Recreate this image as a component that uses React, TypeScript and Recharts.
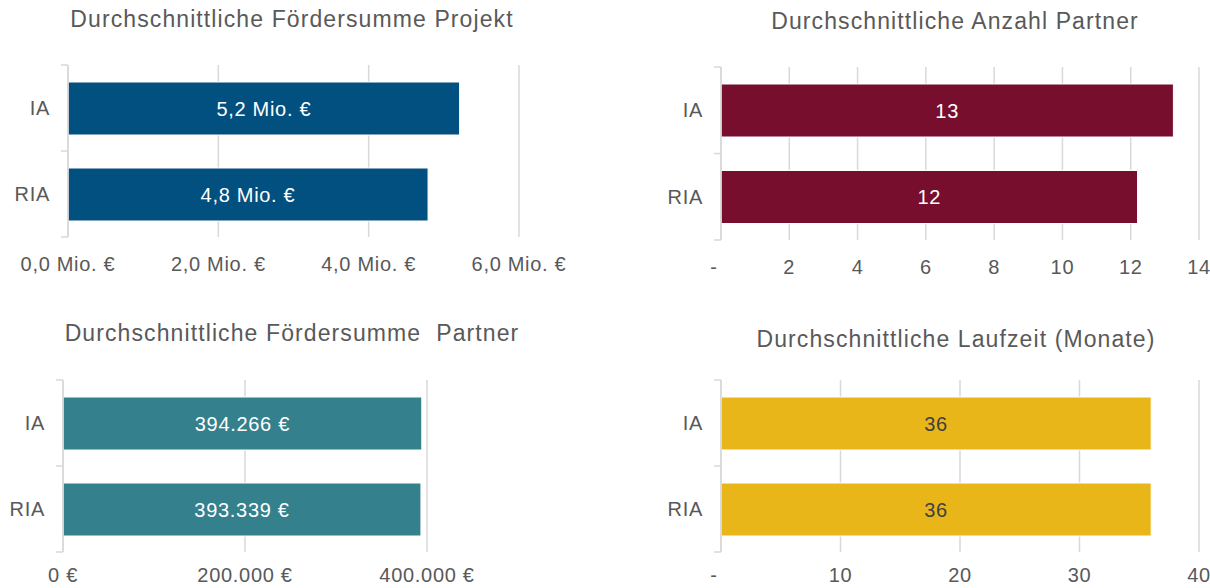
import { BarChart, Bar, XAxis, YAxis, CartesianGrid, LabelList } from 'recharts';

const categories = ['IA', 'RIA'];

// values
const projectFunding = [5.21, 4.79]; // Mio. €
const partnerCount = [13.25, 12.2];
const partnerFunding = [394266, 393339]; // €
const duration = [36, 36]; // Monate

const projectTicks = [0, 2, 4, 6];
const partnerCountTicks = [0, 2, 4, 6, 8, 10, 12, 14];
const partnerFundingTicks = [0, 200000, 400000];
const durationTicks = [0, 10, 20, 30, 40];

const FONT = '"Liberation Sans", Arial, sans-serif';
const TEXT = '#595959';
const GRID = '#d9d9d9';
const SPACING = 0.7;

const toRows = (values: number[]) => categories.map((name, i) => ({ name, value: values[i] }));

const thousands = (v: number) => String(Math.round(v)).replace(/\B(?=(\d{3})+(?!\d))/g, '.');
const mio = (v: number) => `${Number(v).toFixed(1).replace('.', ',')} Mio. €`;
const euro = (v: number) => `${thousands(v)} €`;
const dash = (v: number) => (v === 0 ? '-' : String(Math.round(v)));
const whole = (v: number) => String(Math.round(v));

function XTick(props: any) {
  const { x, y, payload, format } = props;
  const label = format(payload.value);
  const shift = label === '-' ? -7 : 0;
  return (
    <text
      x={x + shift}
      y={y}
      dy="0.71em"
      textAnchor="middle"
      fill={TEXT}
      fontSize={20}
      fontFamily={FONT}
      letterSpacing={SPACING}
    >
      {label}
    </text>
  );
}

function YTick(props: any) {
  const { x, y, payload, index, band } = props;
  const ax = x + 18;
  return (
    <g>
      <line x1={ax - 7} x2={ax} y1={y - band / 2} y2={y - band / 2} stroke={GRID} strokeWidth={1.5} />
      {index === categories.length - 1 && (
        <line x1={ax - 7} x2={ax} y1={y + band / 2} y2={y + band / 2} stroke={GRID} strokeWidth={1.5} />
      )}
      <text
        x={x}
        y={y}
        dy="0.355em"
        textAnchor="end"
        fill={TEXT}
        fontSize={20}
        fontFamily={FONT}
        letterSpacing={SPACING}
      >
        {payload.value}
      </text>
    </g>
  );
}

interface PanelProps {
  left: number;
  top: number;
  width: number;
  height: number;
  margin: { top: number; right: number; bottom: number; left: number };
  axisWidth: number;
  axisHeight: number;
  tickGap: number;
  values: number[];
  domain: [number, number];
  ticks: number[];
  tickFormat: (v: number) => string;
  labelFormat: (v: number) => string;
  color: string;
  labelColor: string;
}

function Panel(p: PanelProps) {
  const plotHeight = p.height - p.margin.top - p.margin.bottom - p.axisHeight;
  const band = plotHeight / categories.length;
  return (
    <div style={{ position: 'absolute', left: p.left, top: p.top }}>
      <BarChart width={p.width} height={p.height} data={toRows(p.values)} layout="vertical" margin={p.margin}>
        <CartesianGrid horizontal={false} stroke={GRID} strokeWidth={1.5} />
        <XAxis
          type="number"
          domain={p.domain}
          ticks={p.ticks}
          interval={0}
          allowDataOverflow
          height={p.axisHeight}
          tickLine={false}
          axisLine={false}
          tickSize={0}
          tickMargin={p.tickGap}
          tick={(t: any) => <XTick {...t} format={p.tickFormat} />}
        />
        <YAxis
          type="category"
          dataKey="name"
          width={p.axisWidth}
          axisLine={{ stroke: GRID, strokeWidth: 1.5 }}
          tickLine={false}
          tickSize={0}
          tickMargin={18}
          tick={(t: any) => <YTick {...t} band={band} />}
        />
        <Bar dataKey="value" fill={p.color} barSize={53} stroke="#ffffff" strokeWidth={1} isAnimationActive={false}>
          <LabelList
            dataKey="value"
            position="center"
            formatter={(v: any) => p.labelFormat(Number(v))}
            fill={p.labelColor}
            fontSize={20}
            fontFamily={FONT}
            letterSpacing={SPACING}
          />
        </Bar>
      </BarChart>
    </div>
  );
}

function Title({ text, x, y }: { text: string; x: number; y: number }) {
  return (
    <div
      style={{
        position: 'absolute',
        left: x,
        top: y,
        transform: 'translateX(-50%)',
        whiteSpace: 'pre',
        fontSize: 23,
        lineHeight: 1,
        letterSpacing: 1.1,
        color: TEXT,
        fontFamily: FONT,
      }}
    >
      {text}
    </div>
  );
}

export default function App() {
  return (
    <div
      style={{
        position: 'absolute',
        left: 0,
        top: 0,
        width: 1210,
        height: 588,
        background: '#ffffff',
        overflow: 'hidden',
        fontFamily: FONT,
      }}
    >
      <Title text="Durchschnittliche Fördersumme Projekt" x={292} y={8} />
      <Title text="Durchschnittliche Anzahl Partner" x={955} y={10} />
      <Title text="Durchschnittliche Fördersumme  Partner" x={292} y={322} />
      <Title text="Durchschnittliche Laufzeit (Monate)" x={956} y={328} />

      <Panel
        left={0}
        top={40}
        width={600}
        height={250}
        margin={{ top: 25, right: 81, bottom: 0, left: 0 }}
        axisWidth={68}
        axisHeight={53}
        tickGap={20}
        values={projectFunding}
        domain={[0, 6]}
        ticks={projectTicks}
        tickFormat={mio}
        labelFormat={mio}
        color="#02507f"
        labelColor="#ffffff"
      />
      <Panel
        left={620}
        top={40}
        width={590}
        height={250}
        margin={{ top: 27, right: 11, bottom: 0, left: 0 }}
        axisWidth={101}
        axisHeight={50}
        tickGap={20}
        values={partnerCount}
        domain={[0, 14]}
        ticks={partnerCountTicks}
        tickFormat={dash}
        labelFormat={whole}
        color="#770e2e"
        labelColor="#ffffff"
      />
      <Panel
        left={0}
        top={350}
        width={600}
        height={238}
        margin={{ top: 30, right: 173, bottom: 0, left: 0 }}
        axisWidth={63}
        axisHeight={36}
        tickGap={16}
        values={partnerFunding}
        domain={[0, 400000]}
        ticks={partnerFundingTicks}
        tickFormat={(v) => (v === 0 ? '0 €' : euro(v))}
        labelFormat={euro}
        color="#34808d"
        labelColor="#ffffff"
      />
      <Panel
        left={620}
        top={350}
        width={590}
        height={238}
        margin={{ top: 30, right: 11, bottom: 0, left: 0 }}
        axisWidth={101}
        axisHeight={36}
        tickGap={16}
        values={duration}
        domain={[0, 40]}
        ticks={durationTicks}
        tickFormat={dash}
        labelFormat={whole}
        color="#e9b61a"
        labelColor="#404040"
      />
    </div>
  );
}
